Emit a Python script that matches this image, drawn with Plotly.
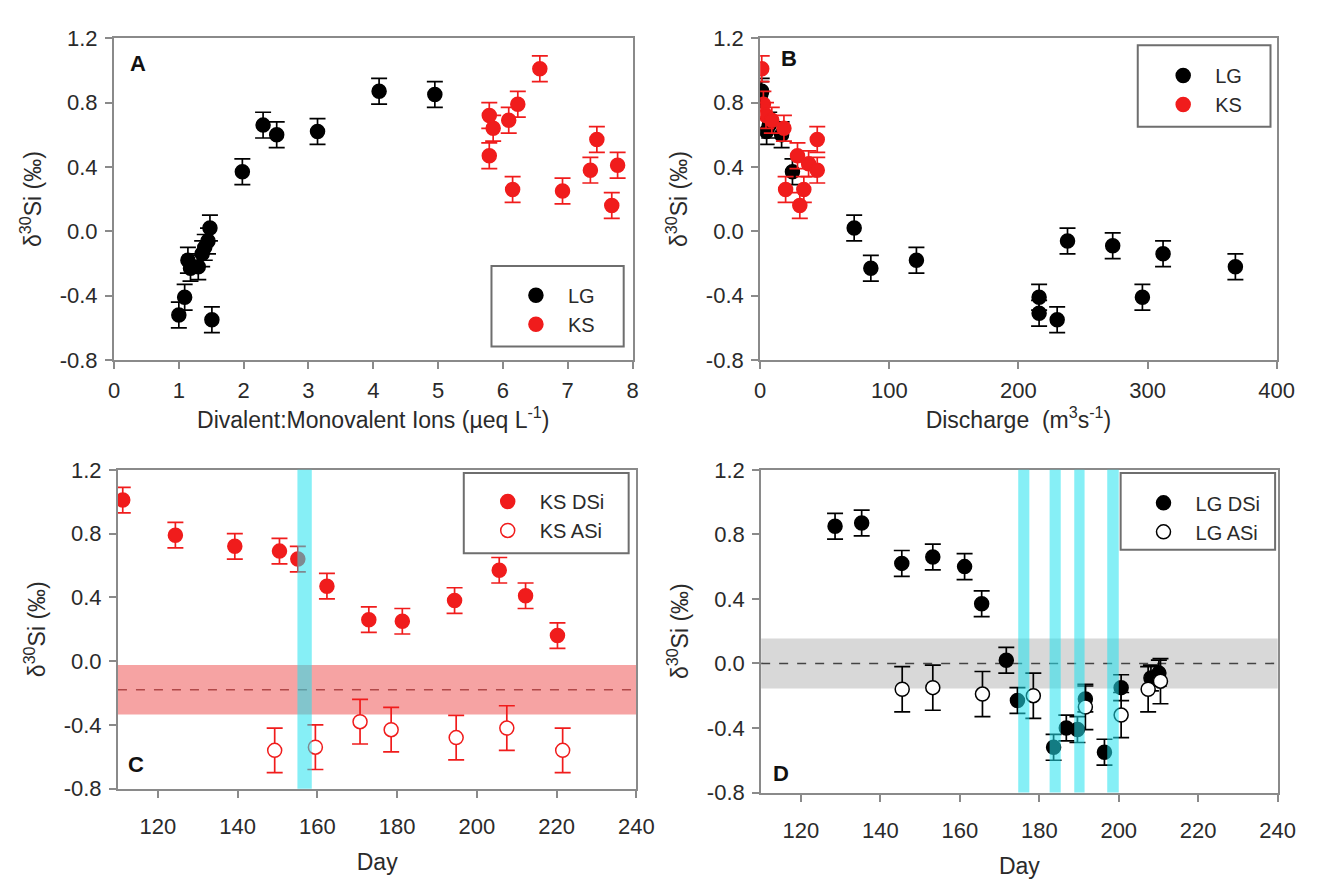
import plotly.graph_objects as go

# ---------------- data ----------------
# Panel A: d30Si vs divalent:monovalent ion ratio
A_LG_ratio = [1.00, 1.09, 1.14, 1.18, 1.30, 1.36, 1.40, 1.45, 1.48, 1.51, 1.98, 2.30, 2.51, 3.14, 4.09, 4.95]
A_LG_d30 = [-0.52, -0.41, -0.18, -0.23, -0.22, -0.14, -0.10, -0.06, 0.02, -0.55, 0.37, 0.66, 0.60, 0.62, 0.87, 0.85]
A_KS_ratio = [5.79, 5.79, 5.85, 6.09, 6.15, 6.23, 6.57, 6.92, 7.35, 7.45, 7.68, 7.77]
A_KS_d30 = [0.47, 0.72, 0.64, 0.69, 0.26, 0.79, 1.01, 0.25, 0.38, 0.57, 0.16, 0.41]

# Panel B: d30Si vs discharge
B_LG_Q = [0.5, 1.2, 5, 7, 16.6, 25, 72.8, 85.7, 121, 216, 216, 230, 238, 273, 296, 312, 368]
B_LG_d30 = [0.85, 0.87, 0.62, 0.66, 0.60, 0.37, 0.02, -0.23, -0.18, -0.41, -0.51, -0.55, -0.06, -0.09, -0.41, -0.14, -0.22]
B_KS_Q = [1.2, 2.5, 4.5, 9, 18.4, 19.7, 28.9, 30.7, 33.8, 37.5, 44.2, 44.2]
B_KS_d30 = [1.01, 0.79, 0.72, 0.69, 0.64, 0.26, 0.47, 0.16, 0.26, 0.42, 0.57, 0.38]

# Panel C: KS time series
C_DSi_day = [111.2, 124.4, 139.3, 150.5, 155.1, 162.4, 172.9, 181.3, 194.4, 205.6, 212.2, 220.2]
C_DSi = [1.01, 0.79, 0.72, 0.69, 0.64, 0.47, 0.26, 0.25, 0.38, 0.57, 0.41, 0.16]
C_ASi_day = [149.3, 159.5, 170.7, 178.5, 194.8, 207.5, 221.5]
C_ASi = [-0.56, -0.54, -0.38, -0.43, -0.48, -0.42, -0.56]
C_ref_mean = -0.18
C_ref_band = [-0.335, -0.025]
C_events = [[155.0, 158.6]]

# Panel D: LG time series
D_DSi_day = [128.6, 135.3, 145.4, 153.2, 161.2, 165.5, 171.7, 174.5, 183.6, 186.8, 189.6, 191.6, 196.4, 200.6, 208.1, 210.1]
D_DSi = [0.85, 0.87, 0.62, 0.66, 0.60, 0.37, 0.02, -0.23, -0.52, -0.40, -0.41, -0.22, -0.55, -0.15, -0.09, -0.06]
D_ASi_day = [145.5, 153.2, 165.7, 178.5, 191.6, 200.6, 207.4, 210.5]
D_ASi = [-0.16, -0.15, -0.19, -0.20, -0.27, -0.32, -0.16, -0.11]
D_ref_mean = 0.0
D_ref_band = [-0.155, 0.155]
D_events = [[174.7, 177.5], [182.6, 185.4], [188.8, 191.4], [197.1, 200.0]]

# analytical uncertainty (2 s.d.)
ERR_DSI = 0.08
ERR_ASI = 0.14

y_ticks = [-0.8, -0.4, 0.0, 0.4, 0.8, 1.2]
y_ticktext = ["-0.8", "-0.4", "0.0", "0.4", "0.8", "1.2"]

# ---------------- styling ----------------
W, H = 1333, 893
RED = "#f01c1c"
BLACK = "#000000"
AXIS = "#8a8a8a"
FONT = "Liberation Sans, Arial, sans-serif"
TXT = "#2a2a2a"
MS = 14


def dom(x0, x1, y0, y1):
    return [x0 / W, x1 / W], [1 - y1 / H, 1 - y0 / H]


boxes = {
    "A": dom(110, 638, 27, 358),
    "B": dom(768, 1294, 27, 358),
    "C": dom(114, 642, 471, 799),
    "D": dom(769, 1295, 471, 803),
}

fig = go.Figure()


def err(e, color):
    return dict(type="constant", value=e, color=color, thickness=1.7, width=8)


def pts(x, y, ax, name, color, legend, filled=True, e=ERR_DSI):
    fig.add_trace(go.Scatter(
        x=x, y=y, mode="markers", name=name,
        xaxis=ax[0], yaxis=ax[1], legend=legend,
        marker=dict(size=MS, color=color if filled else "white",
                    symbol="circle", line=dict(color=color, width=1.5)),
        error_y=err(e, color),
    ))


pts(A_LG_ratio, A_LG_d30, ("x", "y"), "LG", BLACK, "legend")
pts(A_KS_ratio, A_KS_d30, ("x", "y"), "KS", RED, "legend")
pts(B_LG_Q, B_LG_d30, ("x2", "y2"), "LG", BLACK, "legend2")
pts(B_KS_Q, B_KS_d30, ("x2", "y2"), "KS", RED, "legend2")
pts(C_DSi_day, C_DSi, ("x3", "y3"), "KS DSi", RED, "legend3")
pts(C_ASi_day, C_ASi, ("x3", "y3"), "KS ASi", RED, "legend3", filled=False, e=ERR_ASI)
pts(D_DSi_day, D_DSi, ("x4", "y4"), "LG DSi", BLACK, "legend4")
pts(D_ASi_day, D_ASi, ("x4", "y4"), "LG ASi", BLACK, "legend4", filled=False, e=ERR_ASI)

axis_common = dict(
    showline=True, linecolor=AXIS, linewidth=2, mirror=True,
    ticks="outside", ticklen=7, tickwidth=1.5, tickcolor=AXIS,
    showgrid=False, zeroline=False,
    tickfont=dict(size=22, color=TXT, family=FONT),
    title_font=dict(size=23, color=TXT, family=FONT),
)

ytitle = "δ<sup>30</sup>Si (‰)"
layout_axes = {}
specs = [
    ("A", "", [0, 8], dict(dtick=1, tick0=0), "Divalent:Monovalent Ions (µeq L<sup>-1</sup>)", 3, 4),
    ("B", "2", [0, 400], dict(dtick=100, tick0=0), "Discharge&nbsp; (m<sup>3</sup>s<sup>-1</sup>)", 3, 4),
    ("C", "3", [110, 240], dict(dtick=20, tick0=120), "Day", 10, 16),
    ("D", "4", [110, 240], dict(dtick=20, tick0=120), "Day", 10, 16),
]
for key, sfx, xr, xt, xtitle, lstand, xstand in specs:
    xd, yd = boxes[key]
    layout_axes["xaxis" + sfx] = dict(
        axis_common, domain=xd, range=xr, anchor="y" + sfx, ticklabelstandoff=lstand,
        title=dict(text=xtitle, standoff=xstand), **xt)
    layout_axes["yaxis" + sfx] = dict(
        axis_common, domain=yd, range=[-0.8, 1.2], anchor="x" + sfx,
        tickvals=y_ticks, ticktext=y_ticktext, ticklabelstandoff=3,
        title=dict(text=ytitle, standoff=12))

fig.update_layout(**layout_axes)

shapes = []
# reference bands and mean lines
shapes.append(dict(type="rect", xref="x3 domain", yref="y3", x0=0, x1=1,
                   y0=C_ref_band[0], y1=C_ref_band[1], fillcolor="#f6a3a3",
                   line=dict(width=0), layer="below"))
shapes.append(dict(type="line", xref="x3 domain", yref="y3", x0=0, x1=1,
                   y0=C_ref_mean, y1=C_ref_mean,
                   line=dict(color="#b04848", width=1.6, dash="dash"), layer="below"))
shapes.append(dict(type="rect", xref="x4 domain", yref="y4", x0=0, x1=1,
                   y0=D_ref_band[0], y1=D_ref_band[1], fillcolor="#d8d8d8",
                   line=dict(width=0), layer="below"))
shapes.append(dict(type="line", xref="x4 domain", yref="y4", x0=0, x1=1,
                   y0=D_ref_mean, y1=D_ref_mean,
                   line=dict(color="#444444", width=1.6, dash="dash"), layer="below"))
# event bands (semi-transparent, drawn over points)
for x0, x1 in C_events:
    shapes.append(dict(type="rect", xref="x3", yref="y3 domain", x0=x0, x1=x1, y0=0, y1=1,
                       fillcolor="#22e2ee", opacity=0.55, line=dict(width=0), layer="above"))
for x0, x1 in D_events:
    shapes.append(dict(type="rect", xref="x4", yref="y4 domain", x0=x0, x1=x1, y0=0, y1=1,
                       fillcolor="#22e2ee", opacity=0.55, line=dict(width=0), layer="above"))

# legend frames
legend_frames = {
    "A": ("", [0.728, 0.983], [0.042, 0.292]),
    "B": ("2", [0.731, 0.988], [0.725, 0.978]),
    "C": ("3", [0.667, 0.985], [0.738, 0.990]),
    "D": ("4", [0.696, 0.995], [0.752, 0.990]),
}
for key, (sfx, fx, fy) in legend_frames.items():
    shapes.append(dict(type="rect", xref=f"x{sfx} domain", yref=f"y{sfx} domain",
                       x0=fx[0], x1=fx[1], y0=fy[0], y1=fy[1],
                       line=dict(color="#6e6e6e", width=2), fillcolor="rgba(0,0,0,0)",
                       layer="above"))
fig.update_layout(shapes=shapes)


def legend_pos(key, fx, fy):
    xd, yd = boxes[key]
    return dict(x=xd[0] + fx * (xd[1] - xd[0]), y=yd[0] + fy * (yd[1] - yd[0]),
                xref="paper", yref="paper", xanchor="left", yanchor="top",
                bgcolor="rgba(0,0,0,0)", borderwidth=0, itemwidth=54,
                font=dict(size=20, color=TXT, family=FONT), tracegroupgap=0)


fig.update_layout(
    legend=legend_pos("A", 0.752, 0.262),
    legend2=legend_pos("B", 0.757, 0.945),
    legend3=legend_pos("C", 0.690, 0.962),
    legend4=legend_pos("D", 0.717, 0.958),
)

# panel letters
letters = [("A", "", 0.046, 0.922), ("B", "2", 0.055, 0.938),
           ("C", "3", 0.034, 0.076), ("D", "4", 0.038, 0.06)]
for txt, sfx, fx, fy in letters:
    fig.add_annotation(text=f"<b>{txt}</b>", xref=f"x{sfx} domain", yref=f"y{sfx} domain",
                       x=fx, y=fy, showarrow=False, xanchor="center", yanchor="middle",
                       font=dict(size=22, color="#111", family=FONT))

fig.update_layout(
    width=W, height=H, margin=dict(l=0, r=0, t=0, b=0),
    paper_bgcolor="white", plot_bgcolor="white",
    font=dict(family=FONT, color=TXT),
)

fig.write_html("out.html")
